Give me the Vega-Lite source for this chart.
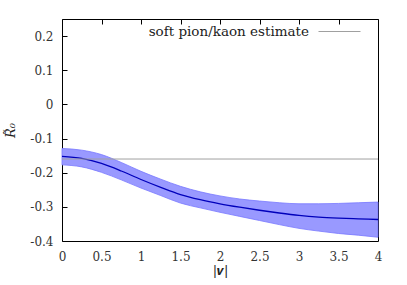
{
  "$schema": "https://vega.github.io/schema/vega-lite/v6.json",
  "autosize": {"type": "none"},
  "width": 316,
  "height": 222,
  "padding": {"left": 62, "top": 19, "right": 29, "bottom": 44},
  "background": "white",
  "config": {
    "font": "DejaVu Serif",
    "view": {"stroke": "#000000", "strokeWidth": 1},
    "axis": {
      "grid": true,
      "gridColor": "#000000",
      "gridOpacity": 1,
      "gridWidth": 1,
      "gridDash": [5, 1000],
      "ticks": false,
      "domain": false,
      "labelFont": "DejaVu Serif",
      "labelFontSize": 12,
      "labelColor": "#333333",
      "titleFont": "DejaVu Serif",
      "titleFontWeight": "normal",
      "titleFontSize": 13,
      "titleColor": "#222222"
    }
  },
  "resolve": {"axis": {"x": "independent", "y": "independent"}},
  "datasets": {
    "band": [
      {"v": 0.0, "c": -0.152, "hi": -0.129, "lo": -0.177},
      {"v": 0.25, "c": -0.158, "hi": -0.134, "lo": -0.183},
      {"v": 0.5, "c": -0.173, "hi": -0.147, "lo": -0.199},
      {"v": 0.75, "c": -0.195, "hi": -0.170, "lo": -0.221},
      {"v": 1.0, "c": -0.220, "hi": -0.196, "lo": -0.245},
      {"v": 1.25, "c": -0.243, "hi": -0.219, "lo": -0.267},
      {"v": 1.5, "c": -0.264, "hi": -0.240, "lo": -0.289},
      {"v": 1.75, "c": -0.279, "hi": -0.256, "lo": -0.303},
      {"v": 2.0, "c": -0.291, "hi": -0.268, "lo": -0.316},
      {"v": 2.25, "c": -0.301, "hi": -0.277, "lo": -0.328},
      {"v": 2.5, "c": -0.310, "hi": -0.283, "lo": -0.340},
      {"v": 2.75, "c": -0.318, "hi": -0.288, "lo": -0.352},
      {"v": 3.0, "c": -0.325, "hi": -0.291, "lo": -0.363},
      {"v": 3.25, "c": -0.330, "hi": -0.291, "lo": -0.371},
      {"v": 3.5, "c": -0.333, "hi": -0.290, "lo": -0.378},
      {"v": 3.75, "c": -0.335, "hi": -0.288, "lo": -0.383},
      {"v": 4.0, "c": -0.337, "hi": -0.286, "lo": -0.389}
    ],
    "est": [{"series": "soft pion/kaon estimate", "value": -0.16}]
  },
  "layer": [
    {
      "data": {"name": "band"},
      "mark": {"type": "area", "interpolate": "monotone", "fill": "#9999ff", "stroke": "#7777ff", "strokeWidth": 0.8},
      "encoding": {
        "x": {
          "field": "v", "type": "quantitative",
          "scale": {"domain": [0, 4], "nice": false},
          "axis": {"orient": "bottom", "tickCount": 8, "labelPadding": 10,
            "labelExpr": "format(datum.value, '~g')",
            "title": "|𝒗|", "titlePadding": 2, "labelFlush": false}
        },
        "y": {
          "field": "hi", "type": "quantitative",
          "scale": {"domain": [-0.4, 0.25], "nice": false, "zero": false},
          "axis": {"orient": "left", "tickCount": 7, "labelPadding": 9,
            "labelExpr": "datum.value < 0 ? '-' + format(-datum.value, '~g') : format(datum.value, '~g')",
            "title": "R̃₀", "titleFontStyle": "italic", "titlePadding": 12, "labelFlush": false}
        },
        "y2": {"field": "lo"}
      }
    },
    {
      "data": {"name": "band"},
      "mark": {"type": "line", "interpolate": "monotone", "color": "#0000bb", "strokeWidth": 1.3},
      "encoding": {
        "x": {"field": "v", "type": "quantitative", "axis": {"orient": "top", "tickCount": 8, "labels": false, "title": null}},
        "y": {"field": "c", "type": "quantitative", "axis": {"orient": "right", "tickCount": 7, "labels": false, "title": null}}
      }
    },
    {
      "data": {"name": "est"},
      "mark": {"type": "rule", "strokeWidth": 1},
      "encoding": {
        "y": {"field": "value", "type": "quantitative", "axis": null},
        "color": {
          "field": "series", "type": "nominal",
          "scale": {"range": ["#a0a0a0"]},
          "legend": {
            "title": null, "orient": "none", "legendX": 256, "legendY": -9, "padding": 0,
            "symbolType": "stroke", "symbolSize": 1764, "symbolStrokeWidth": 1,
            "labelAlign": "right", "labelOffset": -52, "labelLimit": 400, "labelFontSize": 13.5, "labelFont": "DejaVu Serif", "labelColor": "#222222"
          }
        }
      }
    }
  ]
}
